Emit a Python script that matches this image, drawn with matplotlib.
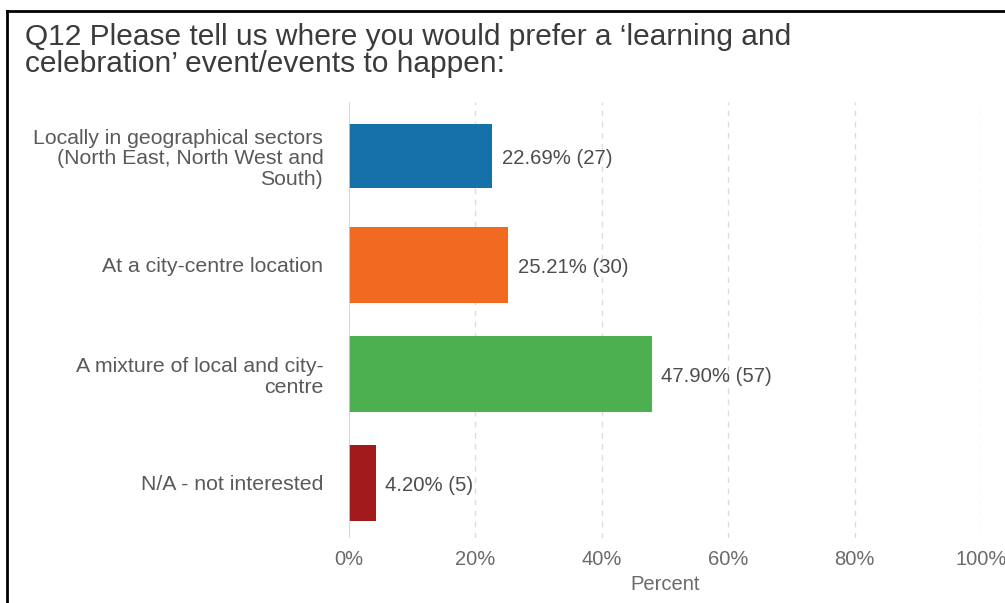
import matplotlib
matplotlib.use("Agg")
import matplotlib.pyplot as plt
from matplotlib.lines import Line2D
import numpy as np

# Survey responses
categories = [
    "Locally in geographical sectors\n(North East, North West and\nSouth)",
    "At a city-centre location",
    "A mixture of local and city-\ncentre",
    "N/A - not interested",
]
percents = [22.69, 25.21, 47.90, 4.20]
counts = [27, 30, 57, 5]
x_ticks = [0, 20, 40, 60, 80, 100]
x_tick_labels = ["0%", "20%", "40%", "60%", "80%", "100%"]
title = "Q12 Please tell us where you would prefer a \u2018learning and\ncelebration\u2019 event/events to happen:"

# Styling
bar_colors = ["#1670aa", "#f26a22", "#4cb050", "#a31a1d"]
bar_thickness = [0.59, 0.70, 0.70, 0.70]
font = ["Liberation Sans", "DejaVu Sans"]
plt.rcParams["font.family"] = font

W, H = 1005, 603
fig = plt.figure(figsize=(W / 100, H / 100), dpi=100)
fig.patch.set_facecolor("white")

ax = fig.add_axes([349 / W, (H - 537.5) / H, 632 / W, 436 / H])

ypos = np.arange(len(categories))
ax.barh(ypos, percents, height=bar_thickness, color=bar_colors, zorder=3)

ax.set_xlim(0, 100)
ax.set_ylim(len(categories) - 0.5, -0.5)

# Gridlines: solid baseline at 0, dashed elsewhere
for t in x_ticks[1:]:
    ax.axvline(t, color="#dcdcdc", lw=1.0, ls=(0, (4, 4)), zorder=1)
ax.axvline(0, color="#c8cde3", lw=1.2, zorder=4)

for s in ax.spines.values():
    s.set_visible(False)

ax.set_xticks(x_ticks)
ax.set_xticklabels(x_tick_labels)
ax.set_yticks(ypos)
ax.set_yticklabels(categories, linespacing=1.12)
ax.tick_params(axis="x", length=0, pad=9, labelsize=14.5, labelcolor="#6b6b6b")
ax.tick_params(axis="y", length=0, pad=18.5, labelsize=15.3, labelcolor="#5a5a5a")
for lbl in ax.get_yticklabels():
    lbl.set_horizontalalignment("right")

ax.set_xlabel("Percent", fontsize=14.5, color="#6b6b6b", labelpad=4)

for y, p, n in zip(ypos, percents, counts):
    ax.annotate(f"{p:.2f}% ({n})", xy=(p, y), xytext=(7, -1.5),
                textcoords="offset points", va="center", ha="left",
                fontsize=14.6, color="#4d4d4d", zorder=5)

fig.text(25 / W, 1 - 23 / H, title, fontsize=21.5, color="#3b3b3b",
         va="top", ha="left", linespacing=0.95)

# Border around the panel
fig.add_artist(Line2D([7 / W, 7 / W], [0, 1 - 11 / H], color="black", lw=2))
fig.add_artist(Line2D([7 / W, 1], [1 - 11 / H, 1 - 11 / H], color="black", lw=2))

fig.savefig("out.png", dpi=100)
